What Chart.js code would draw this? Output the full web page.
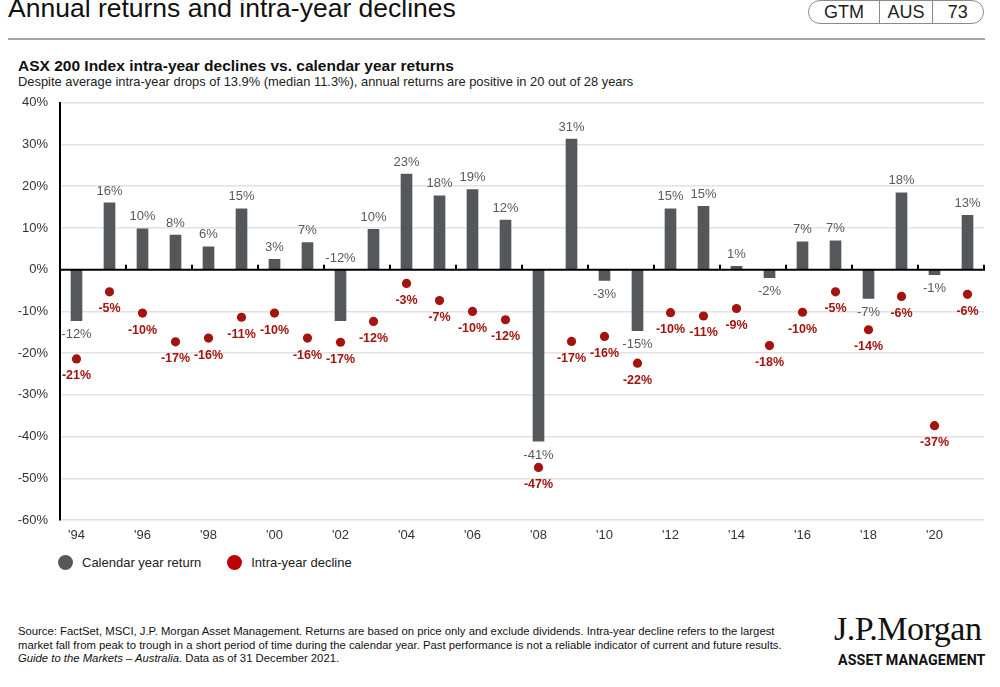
<!DOCTYPE html>
<html>
<head>
<meta charset="utf-8">
<script src="https://cdn.jsdelivr.net/npm/chart.js@4"></script>
<style>
  html, body { margin: 0; padding: 0; background: #fff; }
  body { width: 1000px; height: 687px; position: relative; overflow: hidden;
         font-family: "Liberation Sans", Arial, sans-serif; color: #111; }
  .abs { position: absolute; white-space: nowrap; }
  #title { left: 8px; top: -7px; font-size: 26.5px; color: #111; }
  #rule { left: 8px; top: 38px; width: 977px; height: 0; border-top: 2px solid #a6a6a6; }
  #pill { left: 808px; top: 0px; width: 176px; height: 24px; border: 1px solid #8a8a8a;
          border-radius: 12px; display: flex; font-size: 18px; color: #222; box-sizing: border-box; }
  #pill span { display: block; text-align: center; line-height: 23px; }
  #pill span + span { border-left: 1px solid #8a8a8a; }
  #sub { left: 18px; top: 57px; font-size: 15.5px; font-weight: bold; color: #111; }
  #desc { left: 18px; top: 74px; font-size: 12.9px; color: #222; }
  #wrap { position: absolute; left: 0; top: 83px; width: 1000px; height: 467px; }
  #legend { left: 58px; top: 555px; font-size: 13px; color: #222; display: flex; align-items: center; }
  .dot { display: inline-block; width: 15px; height: 15px; border-radius: 50%; margin-right: 9px; }
  #foot { left: 18px; top: 625px; font-size: 11.3px; line-height: 13.6px; color: #111; }
  #logo1 { left: 834px; top: 610px; font-family: "Liberation Serif", "DejaVu Serif", serif; font-size: 34px; color: #111; letter-spacing: -0.5px; }
  #logo2 { left: 838px; top: 651px; font-family: "Roboto", "DejaVu Sans", sans-serif; font-weight: bold; font-size: 15px; color: #111; letter-spacing: 0.1px; transform: scaleX(0.95); transform-origin: left top; }
</style>
</head>
<body>
<div id="title" class="abs">Annual returns and intra-year declines</div>
<div id="pill" class="abs"><span style="width:71px">GTM</span><span style="width:52px">AUS</span><span style="width:51px">73</span></div>
<div id="rule" class="abs"></div>
<div id="sub" class="abs">ASX 200 Index intra-year declines vs. calendar year returns</div>
<div id="desc" class="abs">Despite average intra-year drops of 13.9% (median 11.3%), annual returns are positive in 20 out of 28 years</div>
<div id="wrap"><canvas id="chart"></canvas></div>
<div id="legend" class="abs">
  <span class="dot" style="background:#56595c"></span><span style="margin-right:26px">Calendar year return</span>
  <span class="dot" style="background:#c00000"></span><span>Intra-year decline</span>
</div>
<div id="foot" class="abs">Source: FactSet, MSCI, J.P. Morgan Asset Management. Returns are based on price only and exclude dividends. Intra-year decline refers to the largest<br>market fall from peak to trough in a short period of time during the calendar year. Past performance is not a reliable indicator of current and future results.<br><i>Guide to the Markets – Australia</i>. Data as of 31 December 2021.</div>
<div id="logo1" class="abs">J.P.Morgan</div>
<div id="logo2" class="abs">ASSET MANAGEMENT</div>

<script>
'use strict';

// years 1994 - 2021
const years = ['94', '95', '96', '97', '98', '99', '00', '01', '02', '03', '04', '05', '06', '07',
               '08', '09', '10', '11', '12', '13', '14', '15', '16', '17', '18', '19', '20', '21'];

// calendar year return (%)
const calendarReturn = [-12.2, 16.0, 9.8, 8.3, 5.5, 14.6, 2.5, 6.5, -12.2, 9.7, 22.9, 17.7, 19.2, 11.9,
                        -41.1, 31.3, -2.6, -14.6, 14.6, 15.2, 0.8, -1.9, 6.7, 6.9, -6.9, 18.4, -1.2, 13.0];

// intra-year decline (%)
const intraYearDecline = [-21.4, -5.3, -10.4, -17.3, -16.4, -11.4, -10.4, -16.4, -17.4, -12.4, -3.3, -7.4, -10.0, -12.0,
                          -47.4, -17.2, -16.0, -22.4, -10.3, -11.1, -9.3, -18.2, -10.2, -5.3, -14.4, -6.4, -37.4, -5.9];

const yTicks = { min: -60, max: 40, step: 10 };

const C = {
  bar:   '#54585b',
  dot:   '#a3130f',
  barLbl:'#595959',
  dotLbl:'#a3130f',
  grid:  '#e2e2e2',
  text:  '#333333'
};

const pct = v => Math.round(v) + '%';

// value labels + zero line with small tick marks
const decorPlugin = {
  id: 'decor',
  afterDatasetsDraw(chart) {
    const { ctx, chartArea, scales } = chart;
    const y0 = scales.y.getPixelForValue(0);
    ctx.save();
    ctx.strokeStyle = '#000';
    ctx.lineWidth = 2;
    ctx.beginPath();
    ctx.moveTo(chartArea.left, y0);
    ctx.lineTo(chartArea.right + 1, y0);
    const step = (chartArea.right - chartArea.left) / years.length;
    for (let k = 2; k <= years.length; k += 2) {
      const x = Math.round(chartArea.left + step * k);
      ctx.moveTo(x, y0);
      ctx.lineTo(x, y0 - 5);
    }
    ctx.stroke();

    const dots = chart.getDatasetMeta(1).data;
    ctx.textAlign = 'center';
    ctx.textBaseline = 'middle';
    ctx.font = '13px "Liberation Sans", Arial, sans-serif';
    ctx.fillStyle = C.barLbl;
    chart.getDatasetMeta(0).data.forEach((el, i) => {
      const v = calendarReturn[i];
      let y = v >= 0 ? el.y - 12 : el.y + 14;
      // negative label that would sit on the dot goes above the zero line
      if (v < 0 && dots[i].y - y < 10) y = y0 - 11;
      ctx.fillText(pct(v), el.x, y);
    });
    ctx.font = 'bold 12.5px "Liberation Sans", Arial, sans-serif';
    ctx.fillStyle = C.dotLbl;
    dots.forEach((el, i) => {
      ctx.fillText(pct(intraYearDecline[i]), el.x, el.y + 17);
    });
    ctx.restore();
  }
};

new Chart(document.getElementById('chart'), {
  type: 'bar',
  data: {
    labels: years,
    datasets: [
      { label: 'Calendar year return', data: calendarReturn, backgroundColor: C.bar,
        barThickness: 11, order: 2 },
      { label: 'Intra-year decline', type: 'line', data: intraYearDecline, showLine: false,
        pointRadius: 4.6, pointBackgroundColor: C.dot, pointBorderWidth: 0, order: 1 }
    ]
  },
  options: {
    responsive: true,
    maintainAspectRatio: false,
    animation: false,
    layout: { padding: { left: 0, right: 16, top: 0, bottom: 0 } },
    plugins: { legend: { display: false }, tooltip: { enabled: false } },
    scales: {
      x: {
        grid: { display: false, drawTicks: false },
        border: { display: false },
        ticks: {
          color: C.text, font: { size: 13, family: '"Liberation Sans", Arial, sans-serif' },
          autoSkip: false, maxRotation: 0, padding: 8,
          callback: (v, i) => i % 2 === 0 ? "'" + years[i] : ''
        },
        afterFit: s => { s.height = 30; }
      },
      y: {
        min: yTicks.min, max: yTicks.max,
        grid: { color: c => c.tick.value === 0 ? 'rgba(0,0,0,0)' : C.grid, lineWidth: 1.5, drawTicks: false },
        border: { color: '#000', width: 2 },
        ticks: {
          stepSize: yTicks.step, color: C.text, padding: 12,
          font: { size: 13, family: '"Liberation Sans", Arial, sans-serif' },
          callback: v => v + '%'
        },
        afterFit: s => { s.width = 60; }
      }
    }
  },
  plugins: [decorPlugin]
});
</script>
</body>
</html>
